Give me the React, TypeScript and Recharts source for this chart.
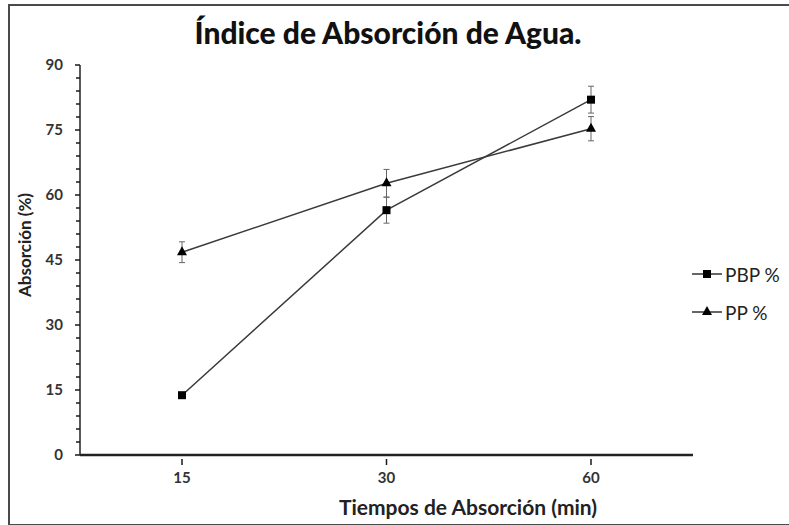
import React from "react";
import { LineChart, Line, XAxis, YAxis, ErrorBar, Legend } from "recharts";

// Tiempos de absorción (min)
const times = ["15", "30", "60"];
// PBP %
const pbpValues = [13.8, 56.5, 82];
const pbpErrors = [0.5, 3, 3.1];
// PP %
const ppValues = [46.8, 62.7, 75.3];
const ppErrors = [2.4, 3.2, 2.8];

const yTicks = [
  0, 3, 6, 9, 12, 15, 18, 21, 24, 27, 30, 33, 36, 39, 42, 45, 48, 51, 54, 57,
  60, 63, 66, 69, 72, 75, 78, 81, 84, 87, 90,
];
const yLabels = [0, 15, 30, 45, 60, 75, 90];

const data = times.map((t, i) => ({
  time: t,
  pbp: pbpValues[i],
  pbpErr: pbpErrors[i],
  pp: ppValues[i],
  ppErr: ppErrors[i],
}));

const FONT = "Lato, 'Open Sans', sans-serif";
const INK = "#1a1a1a";

function SquareDot(props: any) {
  const { cx, cy, index } = props;
  if (cx == null || cy == null) return null;
  return (
    <rect key={`sq-${index}`} x={cx - 4} y={cy - 4} width={8} height={8} fill="#000" />
  );
}

function TriangleDot(props: any) {
  const { cx, cy, index } = props;
  if (cx == null || cy == null) return null;
  return (
    <polygon
      key={`tr-${index}`}
      points={`${cx},${cy - 6} ${cx - 5},${cy + 3} ${cx + 5},${cy + 3}`}
      fill="#000"
    />
  );
}

function YTick(props: any) {
  const { x, y, payload } = props;
  const major = yLabels.includes(payload.value);
  return (
    <g>
      <line x1={x - (major ? 5 : 4)} x2={x} y1={y} y2={y} stroke={INK} strokeWidth={1.5} />
      {major && (
        <text
          x={x - 17}
          y={y + 5}
          textAnchor="end"
          fontFamily={FONT}
          fontWeight={700}
          fontSize={15}
          fill="#333"
        >
          {payload.value}
        </text>
      )}
    </g>
  );
}

function XTick(props: any) {
  const { x, y, payload } = props;
  return (
    <g>
      <line x1={x} x2={x} y1={y + 4} y2={y + 10} stroke={INK} strokeWidth={1.5} />
      <text
        x={x}
        y={y + 28}
        textAnchor="middle"
        fontFamily={FONT}
        fontWeight={700}
        fontSize={15}
        fill="#333"
      >
        {payload.value}
      </text>
    </g>
  );
}

function LegendContent() {
  const rows = [
    { name: "PBP %", marker: "square" },
    { name: "PP %", marker: "triangle" },
  ];
  return (
    <div>
      {rows.map((r) => (
        <div key={r.name} style={{ display: "flex", alignItems: "center", height: 38 }}>
          <svg width={32} height={14}>
            <line x1={0} x2={30} y1={7} y2={7} stroke="#333" strokeWidth={1.5} />
            {r.marker === "square" ? (
              <rect x={11} y={3} width={8} height={8} fill="#000" />
            ) : (
              <polygon points="15,1 10,10 20,10" fill="#000" />
            )}
          </svg>
          <span style={{ fontFamily: FONT, fontSize: 19, color: "#222", marginLeft: 1 }}>
            {r.name}
          </span>
        </div>
      ))}
    </div>
  );
}

export default function App() {
  return (
    <div
      style={{
        position: "absolute",
        left: 0,
        top: 0,
        width: 789,
        height: 525,
        background: "#fff",
        overflow: "hidden",
      }}
    >
      {/* frame */}
      <div
        style={{
          position: "absolute",
          left: 8,
          top: 4,
          width: 800,
          height: 518,
          border: "2px solid #4a4a4a",
        }}
      />
      <div
        style={{
          position: "absolute",
          left: 0,
          top: 14,
          width: 776,
          textAlign: "center",
          fontFamily: FONT,
          fontWeight: 900,
          fontSize: 30,
          color: "#111",
        }}
      >
        Índice de Absorción de Agua.
      </div>
      <div
        style={{
          position: "absolute",
          left: 268,
          top: 494,
          width: 400,
          textAlign: "center",
          fontFamily: FONT,
          fontWeight: 700,
          fontSize: 21,
          color: "#222",
        }}
      >
        Tiempos de Absorción (min)
      </div>
      <div
        style={{
          position: "absolute",
          left: 25 - 100,
          top: 245 - 12,
          width: 200,
          height: 24,
          lineHeight: "24px",
          textAlign: "center",
          transform: "rotate(-90deg)",
          fontFamily: FONT,
          fontWeight: 700,
          fontSize: 17,
          color: "#222",
        }}
      >
        Absorción (%)
      </div>
      <div style={{ position: "absolute", left: 0, top: 0 }}>
        <LineChart
          width={789}
          height={525}
          data={data}
          margin={{ top: 65, right: 96, bottom: 40, left: 10 }}
        >
          <XAxis
            dataKey="time"
            type="category"
            height={30}
            padding={{ left: 102, right: 102 }}
            tickSize={0}
            tickMargin={0}
            tickLine={false}
            axisLine={{ stroke: "#222", strokeWidth: 2.5 }}
            tick={<XTick />}
            interval={0}
          />
          <YAxis
            width={70}
            type="number"
            domain={[0, 90]}
            ticks={yTicks}
            interval={0}
            tickSize={0}
            tickMargin={0}
            tickLine={false}
            axisLine={{ stroke: "#222", strokeWidth: 1.5 }}
            tick={<YTick />}
          />
          <Legend
            layout="vertical"
            verticalAlign="middle"
            align="center"
            content={<LegendContent />}
            wrapperStyle={{ left: 692, top: 255, width: 100 }}
          />
          <Line
            type="linear"
            dataKey="pbp"
            name="PBP %"
            stroke="#3a3a3a"
            strokeWidth={1.5}
            dot={<SquareDot />}
            activeDot={false}
            isAnimationActive={false}
          >
            <ErrorBar dataKey="pbpErr" direction="y" width={3} stroke="#666" strokeWidth={1} />
          </Line>
          <Line
            type="linear"
            dataKey="pp"
            name="PP %"
            stroke="#3a3a3a"
            strokeWidth={1.5}
            dot={<TriangleDot />}
            activeDot={false}
            isAnimationActive={false}
          >
            <ErrorBar dataKey="ppErr" direction="y" width={3} stroke="#666" strokeWidth={1} />
          </Line>
        </LineChart>
      </div>
    </div>
  );
}
